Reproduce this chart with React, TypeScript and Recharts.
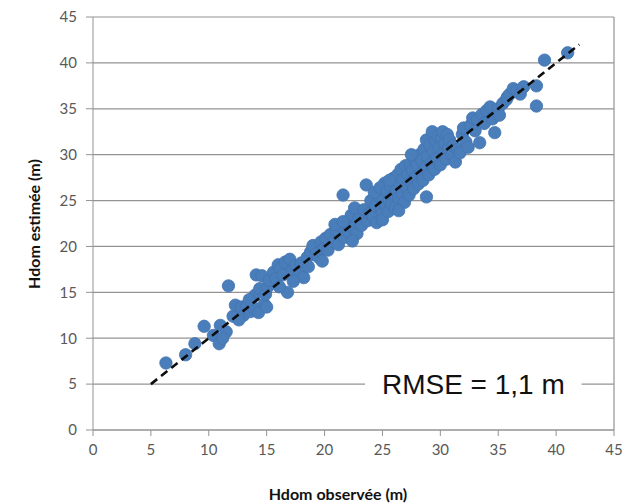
import React from "react";
import {
  ScatterChart,
  Scatter,
  XAxis,
  YAxis,
  CartesianGrid,
  ReferenceArea,
  ReferenceLine,
  Label,
} from "recharts";

const lowPoints = [
  [6.3, 7.3], [8.0, 8.2], [8.8, 9.4], [9.6, 11.3], [10.4, 10.3], [10.9, 9.4],
  [11.0, 11.4], [11.5, 10.7], [11.7, 15.7], [11.2, 10.0],
  [12.1, 12.4], [12.3, 13.6], [12.8, 13.4], [13.0, 12.5], [13.3, 13.6], [13.6, 12.9],
  [13.9, 13.3], [14.0, 14.7], [14.1, 16.9], [14.3, 12.8], [14.4, 15.4], [14.6, 16.8],
  [14.8, 13.7], [14.9, 14.8], [15.1, 15.6], [15.2, 16.3], [15.0, 13.4], [13.5, 14.2],
  [12.6, 12.0],
];

const midPoints = [
  [15.6, 17.2], [15.8, 16.5], [16.0, 18.0], [16.2, 17.6], [16.4, 16.9], [16.6, 18.3],
  [16.8, 15.0], [17.0, 18.6], [17.2, 17.4], [17.5, 17.9], [17.8, 16.9], [18.0, 18.2],
  [18.2, 16.6], [18.5, 18.8], [18.8, 19.4], [19.0, 20.1], [19.3, 19.2], [19.5, 18.8],
  [19.7, 20.5], [19.9, 19.7], [17.3, 16.2], [16.1, 15.6], [18.6, 17.8], [19.8, 18.4],
  [20.1, 20.9], [20.3, 19.6], [20.5, 21.3], [20.8, 20.5], [21.0, 21.8], [21.2, 20.2],
  [21.4, 22.2], [21.6, 25.6], [21.7, 21.0], [21.9, 22.6], [22.1, 21.6], [22.3, 23.4],
  [22.5, 22.0], [22.6, 24.2], [22.8, 21.4], [23.0, 23.0], [23.2, 22.3], [23.4, 24.0],
  [23.6, 26.7], [23.7, 22.8], [23.9, 23.6], [24.0, 25.0], [24.2, 23.3], [24.4, 24.4],
  [24.5, 22.6], [24.7, 25.5], [24.9, 24.0], [25.0, 23.6], [25.2, 26.9], [25.1, 25.2],
  [20.9, 22.4], [21.6, 22.7], [22.4, 20.6], [24.3, 25.9], [25.0, 22.9], [24.8, 26.4],
];

const densePoints = [
  [25.3, 24.4], [25.4, 26.0], [25.5, 23.8], [25.6, 25.0], [25.7, 26.6], [25.8, 24.6],
  [25.9, 27.4], [26.0, 25.6], [26.1, 24.2], [26.2, 26.2], [26.3, 27.8], [26.4, 25.3],
  [26.5, 26.8], [26.6, 28.4], [26.7, 25.8], [26.8, 27.3], [26.9, 24.8], [27.0, 28.8],
  [27.1, 26.4], [27.2, 27.9], [27.3, 25.6], [27.4, 29.0], [27.5, 27.0], [27.6, 28.3],
  [27.7, 26.3], [27.8, 29.4], [27.9, 27.6], [28.0, 28.8], [28.1, 26.8], [28.2, 30.0],
  [28.3, 28.0], [28.4, 29.4], [28.5, 27.2], [28.6, 30.6], [28.7, 28.6], [28.8, 25.4],
  [28.8, 31.6], [28.9, 29.8], [29.0, 27.8], [29.1, 31.0], [29.2, 29.0], [29.3, 32.5],
  [29.4, 30.3], [29.5, 28.4], [29.6, 31.5], [29.7, 29.6], [29.8, 32.0], [29.9, 30.8],
  [30.0, 28.9], [30.1, 31.8], [30.2, 32.5], [30.3, 30.2], [30.4, 31.2], [30.5, 29.5],
  [30.6, 32.2], [30.7, 30.7], [30.8, 31.6], [31.0, 30.0], [31.1, 31.0], [31.3, 29.2],
  [31.5, 30.6], [25.6, 27.2], [26.4, 23.9], [27.5, 30.0],
];

const highPoints = [
  [31.7, 30.2], [31.9, 32.2], [32.0, 32.9], [32.2, 31.4], [32.4, 30.8], [32.6, 33.2],
  [32.8, 34.0], [33.0, 32.6], [33.2, 33.8], [33.4, 31.3], [33.6, 34.4], [33.8, 33.4],
  [34.0, 34.8], [34.3, 35.2], [34.5, 33.9], [34.7, 32.4], [35.0, 35.0], [35.1, 34.3],
  [35.4, 35.6], [35.7, 36.0], [35.8, 36.3], [36.0, 36.6], [36.3, 37.2], [36.6, 37.0],
  [36.9, 36.6], [37.2, 37.4], [38.3, 37.5], [38.3, 35.3], [39.0, 40.3], [41.0, 41.1],
];

const lineX = [5, 42];
const ticks = [0, 5, 10, 15, 20, 25, 30, 35, 40, 45];
const rmseText = "RMSE = 1,1 m";

const points = [...lowPoints, ...midPoints, ...densePoints, ...highPoints].map(
  ([x, y]) => ({ x, y })
);
const lineData = lineX.map((v) => ({ x: v, y: v }));

const tickStyle = { fill: "#595959", fontSize: 15, fontFamily: "Lato" };
const gray = "#939393";

const Dot = (props: any) => (
  <circle cx={props.cx} cy={props.cy} r={6.2} fill="#4a7ebb" stroke="#4374b0" strokeWidth={0.8} />
);

export default function App() {
  return (
    <div style={{ position: "absolute", left: 0, top: 0 }}>
      <ScatterChart
        width={637}
        height={504}
        margin={{ top: 17, right: 23, left: 33, bottom: 44 }}
        style={{ background: "#fff" }}
      >
        <CartesianGrid vertical={false} stroke={gray} strokeWidth={1.2} />
        <XAxis
          type="number"
          dataKey="x"
          domain={[0, 45]}
          ticks={ticks}
          height={30}
          stroke={gray}
          tickSize={6}
          tickMargin={8}
          tick={tickStyle}
        >
          <Label
            value="Hdom observée (m)"
            content={() => (
              <text
                x={338}
                y={500}
                textAnchor="middle"
                fontFamily="Lato"
                fontWeight="bold"
                fontSize={16}
                fill="#111"
              >
                Hdom observée (m)
              </text>
            )}
          />
        </XAxis>
        <YAxis
          type="number"
          dataKey="y"
          domain={[0, 45]}
          ticks={ticks}
          width={60}
          stroke={gray}
          tickSize={7}
          tickMargin={9}
          tick={tickStyle}
        >
          <Label
            value="Hdom estimée (m)"
            content={() => (
              <text
                x={40}
                y={224}
                transform="rotate(-90 40 224)"
                textAnchor="middle"
                fontFamily="Lato"
                fontWeight="bold"
                fontSize={16}
                fill="#111"
              >
                Hdom estimée (m)
              </text>
            )}
          />
        </YAxis>
        <ReferenceLine x={45} stroke={gray} strokeWidth={1.2} />
        <ReferenceArea
          x1={23.5}
          x2={42.2}
          y1={3.4}
          y2={6.6}
          fill="#fff"
          fillOpacity={1}
          stroke="none"
        >
          <Label
            value={rmseText}
            position="center"
            fontSize={28}
            fontFamily="Liberation Sans"
            fill="#111"
          />
        </ReferenceArea>
        <Scatter data={points} shape={Dot} isAnimationActive={false} />
        <Scatter
          data={lineData}
          line={{ stroke: "#0d0d0d", strokeWidth: 2.6, strokeDasharray: "8 5" }}
          shape={() => <g />}
          isAnimationActive={false}
        />
      </ScatterChart>
    </div>
  );
}
